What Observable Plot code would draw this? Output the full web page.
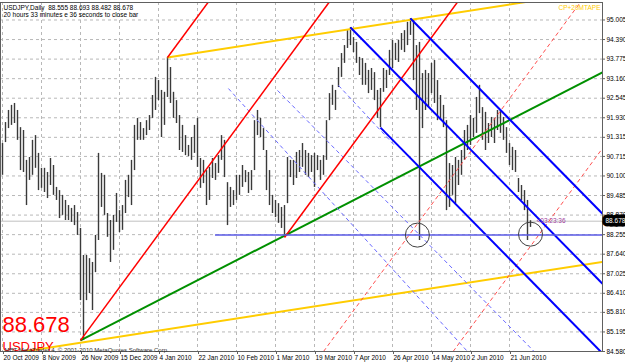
<!DOCTYPE html>
<html><head><meta charset="utf-8">
<script src="https://cdn.jsdelivr.net/npm/d3@7"></script>
<script src="https://cdn.jsdelivr.net/npm/@observablehq/plot@0.6"></script>
<style>body{margin:0;background:#fff}</style>
</head><body><div id="chart"></div>
<script>
// ---- data ----
const symbol = "USDJPY";
const timeframe = "Daily";
const currentOHLC = [88.555, 88.693, 88.482, 88.678];
const countdown = "20 hours 33 minutes e 36 seconds to close bar";
const barTimer = "<03:23:36";
const copyright = "MBT MetaTrader 4, © 2001-2010 MetaQuotes Software Corp.";
const cornerTag = "CP+20MTAPE";

const highs = [91.12,91.78,92.16,92.32,92.38,92.16,91.62,91.53,90.59,90.68,91.22,91.37,90.81,90.34,90.34,90.21,90.65,90.43,89.74,89.64,
89.49,89.33,89.17,89.08,89.17,88.95,88.45,87.60,87.60,87.50,87.38,88.23,90.81,90.18,90.12,88.92,88.70,88.86,89.55,89.01,
89.17,89.96,90.12,90.59,91.69,91.91,91.78,91.59,91.84,92.00,92.63,93.20,93.10,92.79,92.73,93.83,93.51,92.73,92.47,92.00,
91.69,91.37,91.06,91.31,91.69,91.91,90.65,90.59,90.27,90.37,90.65,90.49,90.74,91.37,91.22,89.89,89.74,89.64,90.12,90.12,
90.43,90.27,90.21,90.27,91.84,92.16,91.91,91.59,90.90,90.27,89.49,89.33,89.23,89.11,89.17,90.68,90.59,90.59,90.84,90.90,
91.12,90.90,90.81,90.74,90.81,90.74,90.59,90.74,91.84,92.69,92.95,92.79,93.51,93.95,94.20,94.67,94.77,94.45,94.30,93.83,
93.79,93.64,93.42,93.48,93.35,92.79,92.85,93.48,93.42,94.05,94.36,94.27,94.36,94.58,94.67,94.93,95.05,94.99,94.20,94.30,
93.32,93.42,93.32,93.64,93.73,93.10,92.63,92.32,91.84,90.49,90.43,90.68,90.59,90.90,91.53,91.69,92.00,91.91,92.57,92.95,
92.25,92.10,91.75,91.94,91.91,92.16,92.16,91.94,91.62,91.12,91.00,90.90,90.02,89.80,89.64,89.33,88.693];
const lows = [90.12,91.15,91.59,91.69,91.75,91.22,90.27,90.21,89.17,89.96,90.12,90.34,89.64,89.71,89.58,89.39,89.80,89.49,89.33,88.76,
88.86,88.70,88.70,88.64,88.54,88.23,86.18,84.93,86.18,86.40,85.87,87.06,88.07,89.11,88.86,88.17,87.38,87.76,88.64,88.32,
88.39,88.92,89.42,89.17,90.27,91.22,91.22,91.22,91.37,91.53,91.91,92.16,92.47,91.31,91.69,92.57,92.38,91.91,91.75,90.90,
90.84,90.74,90.71,90.59,90.81,90.37,89.71,89.86,89.17,89.33,90.02,89.96,90.18,90.59,90.05,88.54,89.11,89.17,89.33,89.49,
89.74,89.89,89.55,89.64,90.27,91.37,91.31,90.90,89.64,89.17,88.92,88.79,88.61,88.45,88.17,89.23,90.05,89.80,90.02,90.21,
90.37,90.12,90.05,90.21,89.74,90.27,89.96,90.12,90.59,91.84,92.32,92.16,92.88,93.20,93.64,94.11,94.20,93.98,93.64,93.26,
92.95,92.95,92.69,92.79,92.47,91.91,91.62,92.73,92.85,93.26,93.48,93.73,93.67,94.05,93.98,94.20,94.52,93.10,92.16,88.07,
91.59,92.16,92.25,92.69,92.38,91.84,91.84,91.62,89.01,89.11,89.49,89.23,89.80,90.12,90.59,90.90,91.06,91.31,91.44,92.06,
91.22,90.90,91.12,91.31,91.12,91.53,91.44,91.22,90.81,90.43,90.27,90.21,89.58,89.33,89.01,88.07,88.482];

const xTickIdx = [0,13,26,39,52,65,78,91,104,117,130,143,156,169];
const xTickLabels = ["20 Oct 2009","8 Nov 2009","26 Nov 2009","15 Dec 2009","4 Jan 2010","22 Jan 2010","10 Feb 2010",
  "1 Mar 2010","19 Mar 2010","7 Apr 2010","26 Apr 2010","14 May 2010","2 Jun 2010","21 Jun 2010"];
const yTicks = [95.005,94.390,93.775,93.160,92.545,91.930,91.315,90.715,90.100,89.485,88.870,88.255,87.640,87.025,86.410,85.810,85.195,84.580];

// trendlines: [bar index, price] anchors
const redLines = [
  {x1: 26, y1: 84.93, x2: 109, y2: 95.58},
  {x1: 55, y1: 93.825, x2: 69, y2: 95.62},
  {x1: 94, y1: 88.165, x2: 152, y2: 95.61}];
const redDashed = [
  {x1: 107, y1: 84.58, x2: 193, y2: 95.61},
  {x1: 150.2, y1: 84.58, x2: 200, y2: 90.97}];
const greenLines = [{x1: 26, y1: 84.93, x2: 200, y2: 93.36}];
const yellowLines = [
  {x1: 55, y1: 93.825, x2: 200, y2: 95.945},
  {x1: 0, y1: 84.475, x2: 200, y2: 87.40}];
const blueLines = [
  {x1: 136, y1: 95.05, x2: 200, y2: 88.91},
  {x1: 116, y1: 94.77, x2: 200, y2: 86.71},
  {x1: 126, y1: 91.62, x2: 200, y2: 84.52}];
const blueDashed = [
  {x1: 91.67, y1: 92.79, x2: 177.2, y2: 84.58},
  {x1: 112, y1: 92.945, x2: 131, y2: 91.03},
  {x1: 75.3, y1: 92.85, x2: 155, y2: 84.58}];
const supportLevel = [{x1: 71, x2: 200, y: 88.24}];
const circles = [{i: 138.3, price: 88.24}, {i: 176, price: 88.27}];

// ---- build ----
const bars = highs.map((h, i) => ({i, high: h, low: lows[i]}));
const labelMap = new Map(xTickIdx.map((d, k) => [d, xTickLabels[k]]));
const close = currentOHLC[3];
const header = `${symbol},${timeframe}  ${currentOHLC.map(d => d.toFixed(3)).join(" ")}`;
const font = "Liberation Sans, Arial, sans-serif";

const chart = Plot.plot({
  width: 625, height: 363,
  marginLeft: 0, marginRight: 23, marginTop: 2, marginBottom: 12,
  style: {fontFamily: font, fontSize: "6.5px", background: "white", color: "black", overflow: "visible"},
  x: {domain: [-0.667, 200]},
  y: {domain: [84.58, 95.555]},
  marks: [
    Plot.gridX({ticks: xTickIdx, stroke: "#b8b8b8", strokeOpacity: 1, strokeDasharray: "3,3"}),
    Plot.gridY({ticks: yTicks, stroke: "#b8b8b8", strokeOpacity: 1, strokeDasharray: "3,3"}),
    Plot.ruleY([close], {stroke: "#c0c0c0", strokeWidth: 1}),
    Plot.ruleX(bars, {x: "i", y1: "low", y2: "high", stroke: "#3a3a3a", strokeWidth: 1.4}),
    Plot.link(yellowLines, {x1: "x1", y1: "y1", x2: "x2", y2: "y2", stroke: "#ffcc00", strokeWidth: 2, clip: true}),
    Plot.link(greenLines, {x1: "x1", y1: "y1", x2: "x2", y2: "y2", stroke: "#009000", strokeWidth: 2, clip: true}),
    Plot.link(redDashed, {x1: "x1", y1: "y1", x2: "x2", y2: "y2", stroke: "#ff5050", strokeWidth: 1, strokeDasharray: "4,3", clip: true}),
    Plot.link(blueDashed, {x1: "x1", y1: "y1", x2: "x2", y2: "y2", stroke: "#6a6aff", strokeWidth: 1, strokeDasharray: "4,3", clip: true}),
    Plot.link(redLines, {x1: "x1", y1: "y1", x2: "x2", y2: "y2", stroke: "#ff0000", strokeWidth: 1.5, clip: true}),
    Plot.link(blueLines, {x1: "x1", y1: "y1", x2: "x2", y2: "y2", stroke: "#0000ff", strokeWidth: 2, clip: true}),
    Plot.ruleY(supportLevel, {x1: "x1", x2: "x2", y: "y", stroke: "#5a5ae6", strokeWidth: 1.5}),
    Plot.dot(circles, {x: "i", y: "price", r: 12, stroke: "#404040", strokeWidth: 1, fill: "none"}),
    Plot.frame({stroke: "#606060"}),
    Plot.axisY({anchor: "right", ticks: yTicks, tickFormat: d => d.toFixed(3), tickSize: 2, tickPadding: 2, fontSize: 6.5, stroke: "#606060"}),
    Plot.axisX({anchor: "bottom", ticks: xTickIdx, tickFormat: d => labelMap.get(d), tickSize: 3, tickPadding: 1, textAnchor: "start", dx: 1, fontSize: 6.5, stroke: "#606060"}),
    Plot.text([close], {y: d => d, frameAnchor: "right", dx: 3, textAnchor: "start", text: d => d.toFixed(3), fill: "white", stroke: "black", strokeWidth: 7, strokeLinejoin: "miter", fontSize: 6.5}),
    Plot.text([close], {y: d => d, frameAnchor: "right", dx: -66, textAnchor: "start", text: () => barTimer, fill: "#a040a0", fontSize: 6.5}),
    Plot.text([header], {frameAnchor: "top-left", dx: 3, dy: 3, text: d => d, textAnchor: "start", lineAnchor: "top", fontSize: 6.5}),
    Plot.text([countdown], {frameAnchor: "top-left", dx: 3, dy: 10, text: d => d, textAnchor: "start", lineAnchor: "top", fontSize: 6.5}),
    Plot.text([cornerTag], {frameAnchor: "top-right", dx: -2, dy: 3, text: d => d, textAnchor: "end", lineAnchor: "top", fill: "#ffcc00", fontSize: 6.5}),
    Plot.text([close], {frameAnchor: "bottom-left", dx: 2, dy: -20, text: d => d.toFixed(3), textAnchor: "start", lineAnchor: "bottom", fill: "#ff0000", fontSize: 22}),
    Plot.text([symbol], {frameAnchor: "bottom-left", dx: 2, dy: -1, text: d => d, textAnchor: "start", lineAnchor: "bottom", fill: "#ff0000", fontSize: 13}),
    Plot.text([copyright], {frameAnchor: "bottom-left", dx: 4, dy: 0, text: d => d, textAnchor: "start", lineAnchor: "bottom", fill: "#303030", fontSize: 6})
  ]
});
document.getElementById("chart").appendChild(chart);
</script>
</body></html>
